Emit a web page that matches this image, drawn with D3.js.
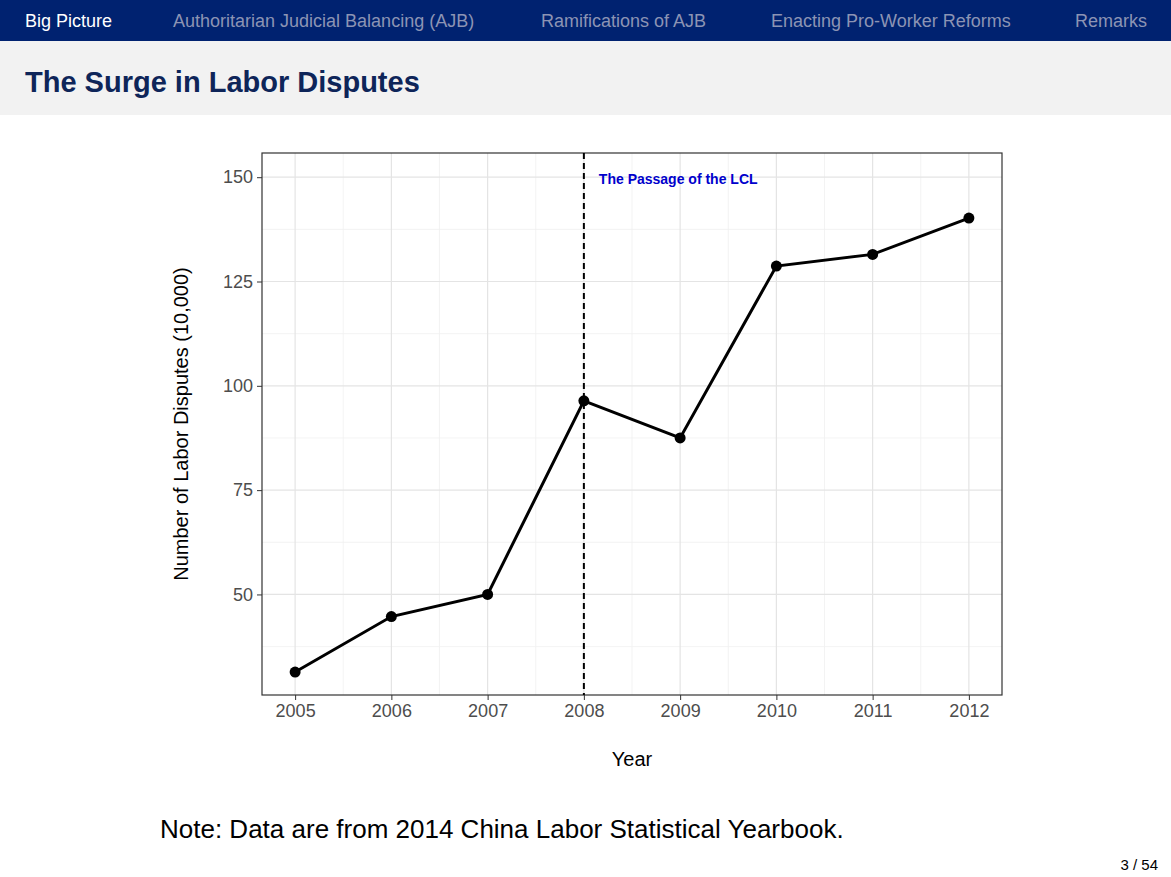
<!DOCTYPE html>
<html>
<head>
<meta charset="utf-8">
<script src="https://cdn.jsdelivr.net/npm/d3@7"></script>
<style>
  body { margin: 0; background: #fff; font-family: "Liberation Sans", Arial, sans-serif; }
</style>
</head>
<body>
<svg id="chart" width="1171" height="877"></svg>
<script>
const navItems = ["Big Picture", "Authoritarian Judicial Balancing (AJB)", "Ramifications of AJB", "Enacting Pro-Worker Reforms", "Remarks"];
const navX = [25, 173, 541, 771, 1075];
const years = [2005, 2006, 2007, 2008, 2009, 2010, 2011, 2012];
const disputes = [31.4, 44.7, 50.0, 96.4, 87.5, 128.7, 131.5, 140.2];
const yTicks = [50, 75, 100, 125, 150];

const svg = d3.select("#chart");

// header bar
svg.append("rect").attr("x", 0).attr("y", 0).attr("width", 1171).attr("height", 41).attr("fill", "#002270");
svg.selectAll(".nav").data(navItems).enter().append("text")
    .attr("x", (d, i) => navX[i]).attr("y", 27)
    .attr("font-size", 18)
    .attr("fill", (d, i) => (i == 0 ? "#ffffff" : "#8c94b4"))
    .text((d) => d);

svg.append("rect").attr("x", 0).attr("y", 41).attr("width", 1171).attr("height", 74).attr("fill", "#f2f2f2");
svg.append("text").attr("x", 25).attr("y", 92).attr("font-size", 29).attr("font-weight", "bold")
    .attr("fill", "#0e2559").text("The Surge in Labor Disputes");

// plot
const margins = { left: 262, right: 1002, top: 153, bottom: 695 };
const xScale = d3.scaleLinear().domain([2004.656, 2012.344]).range([margins.left, margins.right]);
const yScale = d3.scaleLinear().domain([25.9, 155.8]).range([margins.bottom, margins.top]);

const grid = svg.append("g");
const minorX = years.slice(0, -1).map((y) => y + 0.5);
const minorY = [37.5, 62.5, 87.5, 112.5, 137.5];
grid.selectAll(".mx").data(minorX).enter().append("line")
    .attr("x1", (d) => xScale(d)).attr("x2", (d) => xScale(d))
    .attr("y1", margins.top).attr("y2", margins.bottom).attr("stroke", "#f0f0f0").attr("stroke-width", 0.8);
grid.selectAll(".my").data(minorY).enter().append("line")
    .attr("y1", (d) => yScale(d)).attr("y2", (d) => yScale(d))
    .attr("x1", margins.left).attr("x2", margins.right).attr("stroke", "#f0f0f0").attr("stroke-width", 0.8);
grid.selectAll(".gx").data(years).enter().append("line")
    .attr("x1", (d) => xScale(d)).attr("x2", (d) => xScale(d))
    .attr("y1", margins.top).attr("y2", margins.bottom).attr("stroke", "#e4e4e4").attr("stroke-width", 1.2);
grid.selectAll(".gy").data(yTicks).enter().append("line")
    .attr("y1", (d) => yScale(d)).attr("y2", (d) => yScale(d))
    .attr("x1", margins.left).attr("x2", margins.right).attr("stroke", "#e4e4e4").attr("stroke-width", 1.2);

const xAxis = svg.append("g").attr("transform", `translate(0,${margins.bottom})`)
    .call(d3.axisBottom(xScale).tickValues(years).tickFormat(d3.format("d")).tickSize(5).tickPadding(4));
const yAxis = svg.append("g").attr("transform", `translate(${margins.left},0)`)
    .call(d3.axisLeft(yScale).tickValues(yTicks).tickSize(5).tickPadding(4));
[xAxis, yAxis].forEach((g) => {
    g.select(".domain").remove();
    g.selectAll("line").attr("stroke", "#333");
    g.selectAll("text").attr("font-size", 18).attr("fill", "#4d4d4d").attr("font-family", "Liberation Sans, Arial");
});

svg.append("rect").attr("x", margins.left).attr("y", margins.top)
    .attr("width", margins.right - margins.left).attr("height", margins.bottom - margins.top)
    .attr("fill", "none").attr("stroke", "#333").attr("stroke-width", 1.2);

// LCL line
svg.append("line").attr("x1", xScale(2008)).attr("x2", xScale(2008))
    .attr("y1", margins.top).attr("y2", margins.bottom)
    .attr("stroke", "#000").attr("stroke-width", 2).attr("stroke-dasharray", "6,4");
svg.append("text").attr("x", xScale(2008) + 15).attr("y", 184).attr("font-size", 14).attr("font-weight", "bold")
    .attr("fill", "#0000cc").text("The Passage of the LCL");

const line = d3.line().x((d, i) => xScale(years[i])).y((d) => yScale(d));
svg.append("path").datum(disputes).attr("d", line).attr("fill", "none").attr("stroke", "#000").attr("stroke-width", 3);
svg.selectAll(".pt").data(disputes).enter().append("circle")
    .attr("cx", (d, i) => xScale(years[i])).attr("cy", (d) => yScale(d)).attr("r", 5.5).attr("fill", "#000");

svg.append("text").attr("x", 632).attr("y", 766).attr("text-anchor", "middle").attr("font-size", 20).text("Year");
svg.append("text").attr("transform", "translate(188,424) rotate(-90)").attr("text-anchor", "middle")
    .attr("font-size", 20).text("Number of Labor Disputes (10,000)");

svg.append("text").attr("x", 160).attr("y", 838).attr("font-size", 26).text("Note: Data are from 2014 China Labor Statistical Yearbook.");
svg.append("text").attr("x", 1158).attr("y", 870).attr("text-anchor", "end").attr("font-size", 15).text("3 / 54");
</script>
</body>
</html>
